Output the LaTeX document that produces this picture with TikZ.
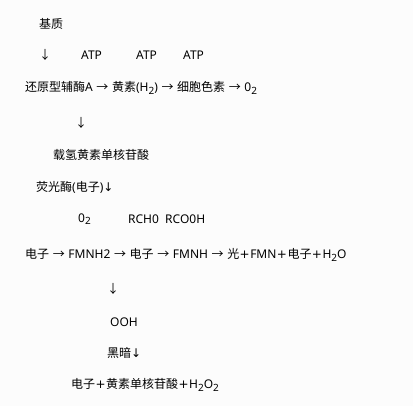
\documentclass[tikz,border=0pt]{standalone}
\usepackage{fontspec}
\setmainfont{Noto Sans}
\newfontfamily\cjk{Noto Sans CJK SC}
\newfontfamily\djv{DejaVu Sans}
\definecolor{bg}{RGB}{252,252,252}
\newcommand\lsub[1]{\raisebox{-0.35ex}{\fontsize{10}{10}\selectfont #1}}
\newcommand\ar{\makebox[13pt]{\cjk →}}
\newcommand\pl{\makebox[11pt]{\djv +}}
\newcommand\dn{{\djv ↓}}
\begin{document}
\begin{tikzpicture}[x=1pt,y=-1pt,
  txt/.style={anchor=west, inner sep=0pt, font=\fontsize{12}{14}\selectfont},
  arr/.style={anchor=center, inner sep=0pt, font=\fontsize{12}{14}\selectfont\cjk}]
\fill[bg] (0,0) rectangle (413,406);
\useasboundingbox (0,0) rectangle (413,406);
\node[txt] (l1) at (39,24) {\cjk 基质};
\node[arr] (a1) at (45,55) {↓};
\node[txt] (atp1) at (81,55) {ATP};
\node[txt] (atp2) at (136,55) {ATP};
\node[txt] (atp3) at (183,55) {ATP};
\node[txt] (l3) at (25,88) {{\cjk 还原型辅酶}A \ar{} {\cjk 黄素}(H\lsub{2}) \ar{} {\cjk 细胞色素} \ar{} 0\lsub{2}};
\node[arr] (a2) at (81,123) {↓};
\node[txt] (l5) at (53,155) {\cjk 载氢黄素单核苷酸};
\node[txt] (l6) at (36,187) {{\cjk 荧光酶}({\cjk 电子})\dn};
\node[txt] (o2) at (78,219) {0\lsub{2}};
\node[txt] (rch) at (128,219) {RCH0\ \ RCO0H};
\node[txt] (l8) at (25,255) {{\cjk 电子} \ar{} FMNH2 \ar{} {\cjk 电子} \ar{} FMNH \ar{} {\cjk 光}\pl FMN\pl{\cjk 电子}\pl H\lsub{2}O};
\node[arr] (a3) at (113,289) {↓};
\node[txt] (ooh) at (110,322) {OOH};
\node[txt] (l11) at (107,353) {{\cjk 黑暗}\dn};
\node[txt] (l12) at (71,385) {{\cjk 电子}\pl{\cjk 黄素单核苷酸}\pl H\lsub{2}O\lsub{2}};
\end{tikzpicture}
\end{document}
